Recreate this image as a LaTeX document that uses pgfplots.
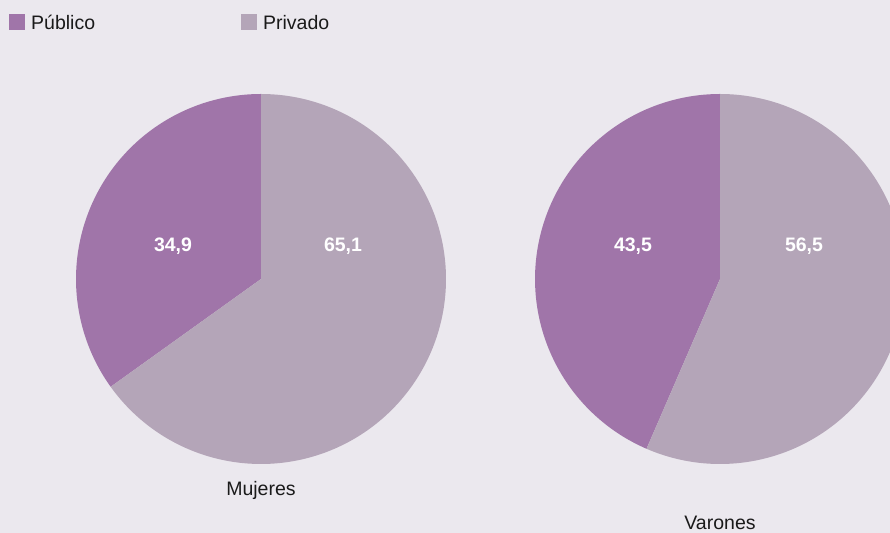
\documentclass[border=0pt]{standalone}
\usepackage{fontspec}
\setmainfont{Liberation Sans}
\usepackage{pgfplots}
\usepackage{pgfplotstable}
\pgfplotsset{compat=1.18}
\definecolor{pub}{HTML}{A075A9}
\definecolor{priv}{HTML}{B4A5B8}
\definecolor{bg}{HTML}{EBE8EE}
\definecolor{txt}{HTML}{1A1A1A}
\pgfplotstableread{
grupo publico privado
Mujeres 34.9 65.1
Varones 43.5 56.5
}\pietable
\pgfplotstablegetelem{0}{publico}\of\pietable \let\mujpub\pgfplotsretval
\pgfplotstablegetelem{1}{publico}\of\pietable \let\varpub\pgfplotsretval
\begin{document}
\begin{tikzpicture}
\fill[bg] (-10pt,-10pt) rectangle (900pt,542pt);
\begin{axis}[
  at={(0pt,0pt)}, anchor=south west,
  scale only axis, width=890pt, height=532pt,
  xmin=0, xmax=890, ymin=0, ymax=532,
  axis line style={draw=none}, ticks=none,
  clip=true,
  legend columns=2,
  legend style={at={(axis cs:9,518)}, anchor=north west, draw=none, fill=none,
    inner sep=0pt, font=\fontsize{19.5}{22}\selectfont, text=txt,
    /tikz/every even column/.append style={column sep=146pt},
    nodes={inner sep=0pt, anchor=west}},
  legend image code/.code={\fill[#1] (0pt,-7pt) rectangle (16pt,9pt);},
  legend cell align=left,
]
% Mujeres (center 261,253; r=185)
\addplot[fill=pub, draw=none, domain=90:90+3.6*\mujpub, samples=120, variable=\t]
  ({261+185*cos(\t)},{253+185*sin(\t)}) -- (axis cs:261,253) -- cycle;
\addplot[fill=priv, draw=none, domain=90+3.6*\mujpub:450, samples=200, variable=\t]
  ({261+185*cos(\t)},{253+185*sin(\t)}) -- (axis cs:261,253) -- cycle;
% Varones (center 720,253; r=185)
\addplot[fill=pub, draw=none, domain=90:90+3.6*\varpub, samples=120, variable=\t, forget plot]
  ({720+185*cos(\t)},{253+185*sin(\t)}) -- (axis cs:720,253) -- cycle;
\addplot[fill=priv, draw=none, domain=90+3.6*\varpub:450, samples=200, variable=\t, forget plot]
  ({720+185*cos(\t)},{253+185*sin(\t)}) -- (axis cs:720,253) -- cycle;
\legend{\hspace{6pt}Público,\hspace{6pt}Privado}
\begin{scope}[every node/.style={inner sep=0pt, anchor=base}]
\node[font=\fontsize{19.5}{22}\selectfont\bfseries, text=white] at (axis cs:173,280) {34,9};
\node[font=\fontsize{19.5}{22}\selectfont\bfseries, text=white] at (axis cs:343,280) {65,1};
\node[font=\fontsize{19.5}{22}\selectfont\bfseries, text=white] at (axis cs:633,280) {43,5};
\node[font=\fontsize{19.5}{22}\selectfont\bfseries, text=white] at (axis cs:804,280) {56,5};
\node[font=\fontsize{19.5}{22}\selectfont, text=txt] at (axis cs:261,36) {Mujeres};
\node[font=\fontsize{19.5}{22}\selectfont, text=txt] at (axis cs:720,3) {Varones};
\end{scope}
\end{axis}
\pgfresetboundingbox
\path[use as bounding box] (0pt,0pt) rectangle (890pt,532pt);
\end{tikzpicture}
\end{document}
